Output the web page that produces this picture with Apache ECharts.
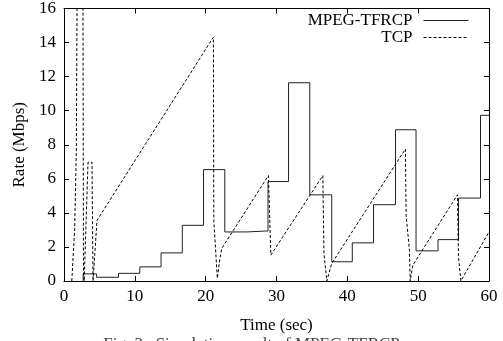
<!DOCTYPE html>
<html>
<head>
<meta charset="utf-8">
<script src="https://cdn.jsdelivr.net/npm/echarts@6/dist/echarts.min.js"></script>
<style>
html,body{margin:0;padding:0;background:#fff;}
#chart{width:503px;height:341px;}
</style>
</head>
<body>
<div id="chart"></div>
<script>
// MPEG-TFRCP step rate (value holds from time i until time i+1)
var tfrcpTime = [2.7, 2.7, 4.6, 7.7, 10.7, 13.7, 16.7, 19.7, 22.7, 25.7, 28.8, 31.7, 34.7, 37.8, 40.7, 43.7, 46.8, 49.7, 52.8, 55.7, 58.8, 60];
var tfrcpRate = [0, 0.42, 0.22, 0.45, 0.83, 1.65, 3.27, 6.54, 2.88, 2.94, 5.84, 11.64, 5.06, 1.13, 2.24, 4.48, 8.88, 1.77, 2.43, 4.87, 9.73, 9.73];

// TCP rate (sawtooth)
var tcpTime = [1.1, 1.5, 1.74, 1.84, 1.9, 2.62, 2.68, 2.75, 2.85, 3.39, 3.95, 4.1, 4.33, 4.66, 21.09, 21.15, 21.65, 22.0, 22.27, 28.86, 29.2, 36.54, 36.7, 37.1, 37.8, 48.2, 48.3, 48.77, 48.87, 49.25, 55.55, 55.69, 56.02, 60];
var tcpRate = [0, 3, 7.6, 16, 18, 18, 16, 0.4, 0, 6.97, 6.97, 0, 0, 3.56, 14.32, 3.56, 0.16, 1.3, 1.91, 6.19, 1.52, 6.19, 1.62, 0, 1.03, 7.75, 3.85, 1.81, 0, 0.93, 5.06, 1.42, 0, 2.88];

var xTicks = [0, 10, 20, 30, 40, 50, 60];
var yTicks = [0, 2, 4, 6, 8, 10, 12, 14, 16];

var seriesNames = ['MPEG-TFRCP', 'TCP'];
var xTitle = 'Time (sec)';
var yTitle = 'Rate (Mbps)';
var caption = 'Fig. 3.  Simulation result of MPEG-TFRCP';

function zip(a, b) { return a.map(function (v, i) { return [v, b[i]]; }); }

var FONT = "'Liberation Serif', 'Times New Roman', serif";
var chart = echarts.init(document.getElementById('chart'), null, {renderer: 'canvas'});

function xAxisDef(pos, labels) {
  return {
    type: 'value', position: pos, min: xTicks[0], max: xTicks[xTicks.length - 1], interval: 10,
    axisLine: {show: true, onZero: false, lineStyle: {color: '#000', width: 1}},
    axisTick: {show: true, inside: true, length: 5, lineStyle: {color: '#000'}},
    axisLabel: {show: labels, color: '#000', fontFamily: FONT, fontSize: 17, margin: 7},
    splitLine: {show: false},
    name: labels ? xTitle : '', nameLocation: 'middle', nameGap: 36,
    nameTextStyle: {color: '#000', fontFamily: FONT, fontSize: 17}
  };
}
function yAxisDef(pos, labels) {
  return {
    type: 'value', position: pos, min: yTicks[0], max: yTicks[yTicks.length - 1], interval: 2,
    axisLine: {show: true, onZero: false, lineStyle: {color: '#000', width: 1}},
    axisTick: {show: true, inside: true, length: 5, lineStyle: {color: '#000'}},
    axisLabel: {show: labels, color: '#000', fontFamily: FONT, fontSize: 17, margin: 8},
    splitLine: {show: false},
    name: labels ? yTitle : '', nameLocation: 'middle', nameGap: 36,
    nameTextStyle: {color: '#000', fontFamily: FONT, fontSize: 17}
  };
}

chart.setOption({
  animation: false,
  backgroundColor: '#fff',
  grid: {left: 64, right: 14, top: 7, bottom: 60, containLabel: false},
  xAxis: [xAxisDef('bottom', true), xAxisDef('top', false)],
  yAxis: [yAxisDef('left', true), yAxisDef('right', false)],
  legend: {
    orient: 'vertical', right: 29, top: 7, align: 'right',
    itemWidth: 45, itemHeight: 10, itemGap: 0,
    itemStyle: {opacity: 0},
    lineStyle: {width: 1},
    textStyle: {color: '#000', fontFamily: FONT, fontSize: 17, lineHeight: 17, padding: [0, 6, 0, 0]},
    data: seriesNames
  },
  series: [
    {
      name: seriesNames[0], type: 'line', step: 'end', symbol: 'none',
      data: zip(tfrcpTime, tfrcpRate), clip: true,
      lineStyle: {color: '#222', width: 1, type: 'solid'}, itemStyle: {color: '#222'}
    },
    {
      name: seriesNames[1], type: 'line', symbol: 'none',
      data: zip(tcpTime, tcpRate), clip: true,
      lineStyle: {color: '#000', width: 1, type: [3, 2]}, itemStyle: {color: '#000'}
    }
  ],
  graphic: [{
    type: 'text', left: 'center', top: 336,
    style: {text: caption, fill: '#444', font: '17px ' + FONT}
  }]
});
</script>
</body>
</html>
